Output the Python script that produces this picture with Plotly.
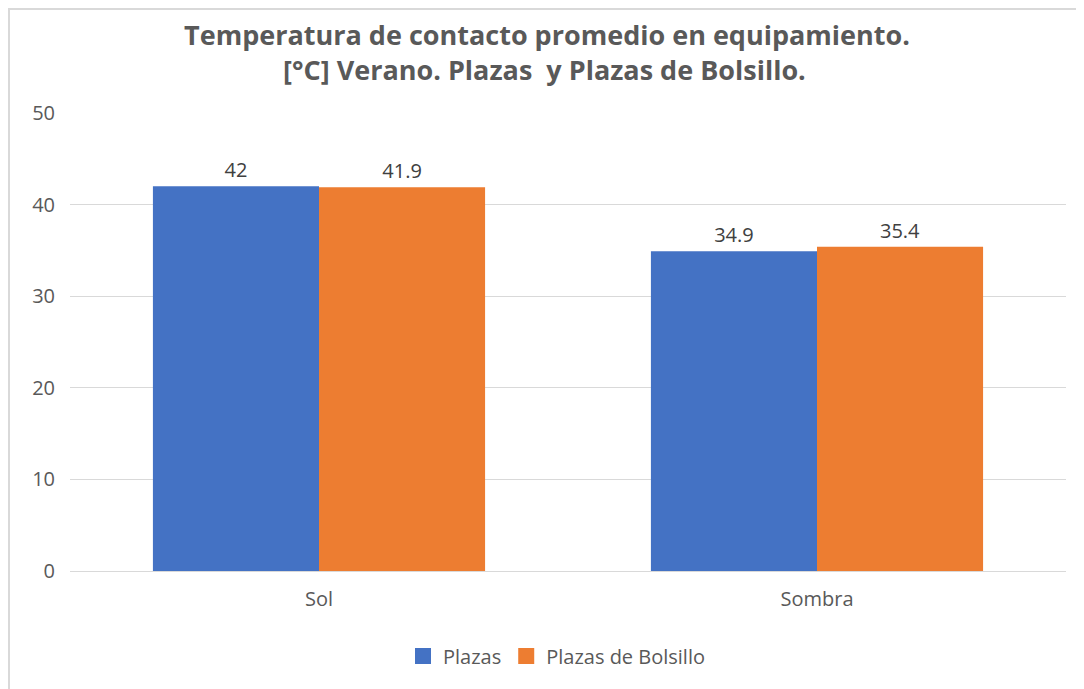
import plotly.graph_objects as go

# --- data ---
categories = ["Sol", "Sombra"]
plazas = [42, 34.9]
plazas_bolsillo = [41.9, 35.4]
plazas_labels = ["42", "34.9"]
bolsillo_labels = ["41.9", "35.4"]
y_ticks = [0, 10, 20, 30, 40, 50]

GREY = "#595959"
BLUE = "#4472C4"
ORANGE = "#ED7D31"

# page body has an 8px margin, so the figure is laid out in page px minus 8
O = 8
W, H = 1084 - O, 689 - O
L, T = 70 - O, 113 - O
R = W - (1066 - O)
B = H - (571 - O)
pw, ph = W - L - R, H - T - B


def px_x(x):  # page px -> paper x
    return (x - O - L) / pw


def px_y(y):  # page px -> paper y
    return 1 - (y - O - T) / ph


fig = go.Figure()

fig.add_trace(go.Bar(
    x=categories, y=plazas, name="Plazas", showlegend=False,
    marker=dict(color=BLUE, line=dict(width=0)),
    text=plazas_labels, textposition="outside", cliponaxis=False,
    textfont=dict(size=20, color="#404040"),
))
fig.add_trace(go.Bar(
    x=categories, y=plazas_bolsillo, name="Plazas de Bolsillo", showlegend=False,
    marker=dict(color=ORANGE, line=dict(width=0)),
    text=bolsillo_labels, textposition="outside", cliponaxis=False,
    textfont=dict(size=20, color="#404040"),
))

# legend entries with larger square swatches
for name, col in [("Plazas", BLUE), ("Plazas de Bolsillo", ORANGE)]:
    fig.add_trace(go.Scatter(
        x=[None], y=[None], mode="markers", name=name,
        marker=dict(symbol="square", size=18, color=col),
    ))

fig.update_layout(
    width=W, height=H,
    margin=dict(l=L, r=R, t=T, b=B, autoexpand=False),
    paper_bgcolor="white", plot_bgcolor="white",
    font=dict(family="Open Sans", size=20, color=GREY),
    barmode="group", bargap=0.333, bargroupgap=0,
    title=dict(
        text="<b>Temperatura de contacto promedio en equipamiento.</b>",
        xref="paper", x=px_x(547), xanchor="center",
        yref="container", y=1 - (36 - O) / H, yanchor="middle",
        font=dict(family="Open Sans", size=27, color=GREY),
    ),
    legend=dict(
        orientation="h", x=px_x(403), xanchor="left",
        y=px_y(656), yanchor="middle",
        font=dict(size=20, color=GREY),
        traceorder="normal", itemsizing="trace",
    ),
    xaxis=dict(showline=False, ticks="", ticklabelstandoff=14,
               tickfont=dict(size=20, color=GREY)),
    yaxis=dict(
        range=[0, 50], tickvals=y_ticks, showgrid=True, gridcolor="#D9D9D9",
        gridwidth=1, zeroline=True, zerolinecolor="#D9D9D9", zerolinewidth=1,
        showline=False, ticks="", ticklabelstandoff=14,
        tickfont=dict(size=20, color=GREY),
    ),
)

fig.add_annotation(
    text="<b>[°C] Verano. Plazas  y Plazas de Bolsillo.</b>",
    xref="paper", yref="paper", x=px_x(544), xanchor="center",
    y=px_y(70), yanchor="middle", showarrow=False,
    font=dict(family="Open Sans", size=27, color=GREY),
)

# light chart frame (top and left edges visible in the original)
fig.add_shape(type="line", xref="paper", yref="paper",
              x0=px_x(O), x1=px_x(1084), y0=px_y(9), y1=px_y(9),
              line=dict(color="#D9D9D9", width=2))
fig.add_shape(type="line", xref="paper", yref="paper",
              x0=px_x(O + 1), x1=px_x(O + 1), y0=px_y(689), y1=px_y(9),
              line=dict(color="#D9D9D9", width=2))

fig.write_html("out.html")
